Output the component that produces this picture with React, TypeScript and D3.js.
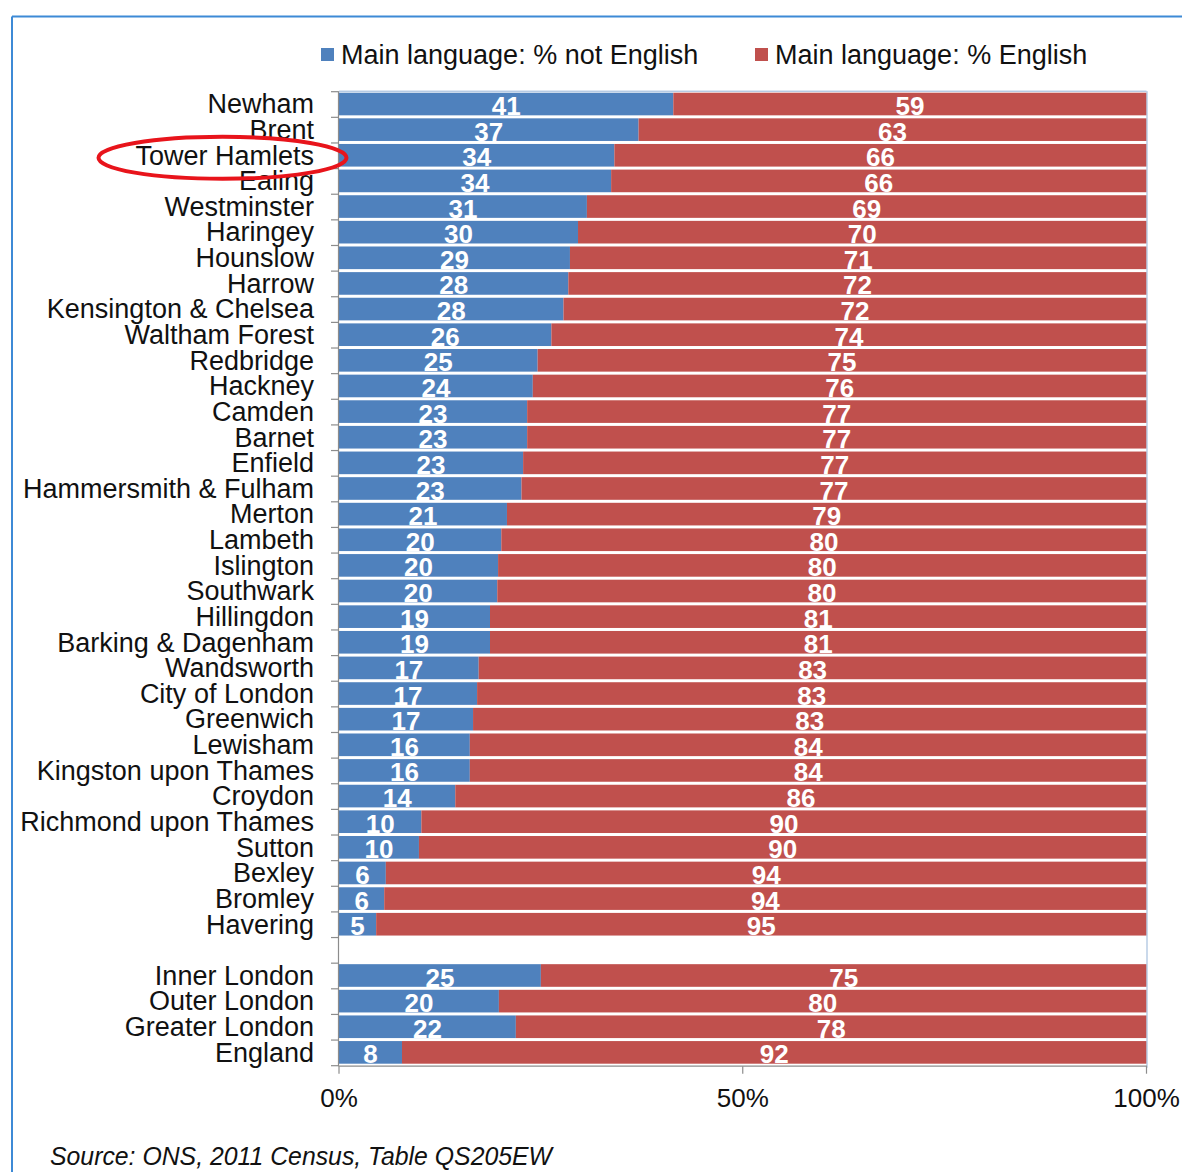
import React from "react";
import * as d3 from "d3";

const categories = [
  "Newham", "Brent", "Tower Hamlets", "Ealing", "Westminster", "Haringey", "Hounslow", "Harrow",
  "Kensington & Chelsea", "Waltham Forest", "Redbridge", "Hackney", "Camden", "Barnet", "Enfield",
  "Hammersmith & Fulham", "Merton", "Lambeth", "Islington", "Southwark", "Hillingdon",
  "Barking & Dagenham", "Wandsworth", "City of London", "Greenwich", "Lewisham",
  "Kingston upon Thames", "Croydon", "Richmond upon Thames", "Sutton", "Bexley", "Bromley", "Havering",
  "", "Inner London", "Outer London", "Greater London", "England",
];

const notEnglish = [
  41.4, 37.1, 34.1, 33.7, 30.7, 29.6, 28.6, 28.4, 27.8, 26.3, 24.6, 24.0, 23.3, 23.3, 22.8, 22.6,
  20.8, 20.1, 19.7, 19.6, 18.7, 18.7, 17.3, 17.1, 16.6, 16.2, 16.2, 14.4, 10.2, 9.9, 5.8, 5.6, 4.6,
  NaN, 25.0, 19.8, 21.9, 7.8,
];

const english = [
  58.6, 62.9, 65.9, 66.3, 69.3, 70.4, 71.4, 71.6, 72.2, 73.7, 75.4, 76.0, 76.7, 76.7, 77.2, 77.4,
  79.2, 79.9, 80.3, 80.4, 81.3, 81.3, 82.7, 82.9, 83.4, 83.8, 83.8, 85.6, 89.8, 90.1, 94.2, 94.4, 95.4,
  NaN, 75.0, 80.2, 78.1, 92.2,
];

const seriesNames = ["Main language: % not English", "Main language: % English"];
const seriesColors = ["#4f81bd", "#c0504d"];
const xTicks = [0, 50, 100];
const highlighted = "Tower Hamlets";
const sourceText = "Source: ONS, 2011 Census, Table QS205EW";

const FONT = "'Liberation Sans', Arial, sans-serif";

export default function App() {
  const W = 1182;
  const H = 1172;
  const left = 339;
  const right = 1146.5;
  const top = 91.7;
  const bottom = 1065.7;

  const x = d3.scaleLinear().domain([0, 100]).range([left, right]);
  const y = d3
    .scaleBand<number>()
    .domain(d3.range(categories.length))
    .range([top, bottom])
    .padding(0);
  const step = y.step();

  const hlIndex = categories.indexOf(highlighted);
  const hlY = (y(hlIndex) as number) + step / 2 + 2;

  return (
    <svg
      width={W}
      height={H}
      style={{ position: "absolute", left: 0, top: 0, display: "block", background: "#fff" }}
      fontFamily={FONT}
    >
      {/* outer frame */}
      <line x1={12} x2={W} y1={16.5} y2={16.5} stroke="#3d8ad6" strokeWidth={2} />
      <line x1={12} x2={12} y1={16.5} y2={H} stroke="#3d8ad6" strokeWidth={2} />

      {/* legend */}
      {seriesNames.map((name, i) => {
        const lx = i === 0 ? 321 : 755;
        return (
          <g key={name}>
            <rect x={lx} y={48} width={13} height={13} fill={seriesColors[i]} />
            <text x={lx + 20} y={64} fontSize={27} fill="#111">
              {name}
            </text>
          </g>
        );
      })}

      {/* bars */}
      {categories.map((c, i) => {
        if (!c) return null;
        const y0 = (y(i) as number) + 1;
        const h = step - 3;
        const a = notEnglish[i];
        const b = english[i];
        return (
          <g key={c}>
            <rect x={x(0)} y={y0} width={x(a) - x(0)} height={h} fill={seriesColors[0]} />
            <rect x={x(a)} y={y0} width={x(a + b) - x(a)} height={h} fill={seriesColors[1]} />
          </g>
        );
      })}

      {/* plot area light border top/right */}
      <line x1={left} x2={right} y1={top - 0.5} y2={top - 0.5} stroke="#95b3d7" strokeWidth={1} />
      <line x1={right + 0.5} x2={right + 0.5} y1={top - 0.5} y2={bottom + 2} stroke="#95b3d7" strokeWidth={1} />

      {/* value labels */}
      {categories.map((c, i) => {
        if (!c) return null;
        const a = notEnglish[i];
        const b = english[i];
        const by = (y(i) as number) + step - 2.3;
        return (
          <g key={"l" + c} fontSize={26} fontWeight="bold" fill="#fff" textAnchor="middle">
            <text x={x(a / 2)} y={by}>{Math.round(a)}</text>
            <text x={x(a + b / 2)} y={by}>{Math.round(b)}</text>
          </g>
        );
      })}

      {/* y axis */}
      <line x1={left - 0.5} x2={left - 0.5} y1={top - 0.5} y2={bottom + 0.5} stroke="#8c8c8c" strokeWidth={1.2} />
      {d3.range(categories.length + 1).map((k) => {
        const ty = top + k * step;
        return <line key={"t" + k} x1={left - 8} x2={left - 0.5} y1={ty} y2={ty} stroke="#8c8c8c" strokeWidth={1.2} />;
      })}
      {categories.map((c, i) =>
        c ? (
          <text
            key={"c" + c}
            x={314}
            y={(y(i) as number) + step - 4}
            fontSize={27}
            textAnchor="end"
            fill="#111"
          >
            {c}
          </text>
        ) : null
      )}

      {/* x axis */}
      <line x1={left - 0.5} x2={right + 0.5} y1={bottom + 0.5} y2={bottom + 0.5} stroke="#8c8c8c" strokeWidth={1.2} />
      {xTicks.map((t) => (
        <g key={"x" + t}>
          <line x1={x(t)} x2={x(t)} y1={bottom + 0.5} y2={bottom + 8} stroke="#8c8c8c" strokeWidth={1.2} />
          <text x={x(t)} y={1107} fontSize={26} textAnchor="middle" fill="#111">
            {t + "%"}
          </text>
        </g>
      ))}

      {/* highlight ellipse */}
      <ellipse cx={222.5} cy={hlY} rx={124} ry={21} fill="none" stroke="#e8141b" strokeWidth={4} />

      {/* source */}
      <text x={50} y={1165} fontSize={25} fontStyle="italic" fill="#111" textLength={502} lengthAdjust="spacingAndGlyphs">
        {sourceText}
      </text>
    </svg>
  );
}
